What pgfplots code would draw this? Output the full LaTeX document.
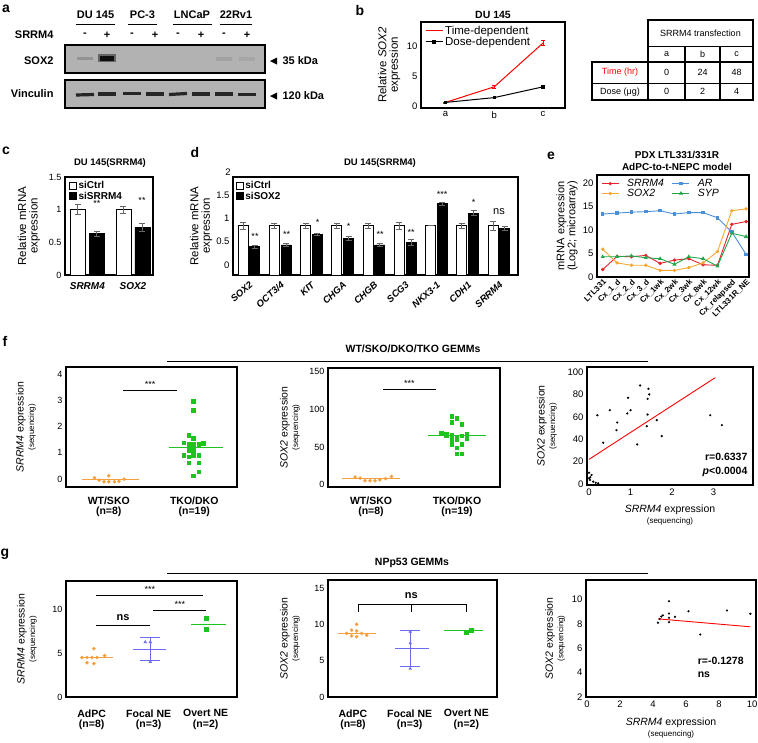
\documentclass[border=0pt]{standalone}
\usepackage{pgfplots}
\pgfplotsset{compat=1.18}
\usepackage{fontspec}
\setmainfont{Liberation Sans}
\newcommand\fs[1]{\fontsize{#1}{#1}\selectfont}
\definecolor{forange}{HTML}{F5A040}
\definecolor{fgreen}{HTML}{1EC31E}
\definecolor{fblue}{HTML}{6B6BEF}
\definecolor{ered}{HTML}{E8202A}
\definecolor{eorange}{HTML}{F8A830}
\definecolor{eblue}{HTML}{4A90D9}
\definecolor{egreen}{HTML}{20A84A}
\pgfplotsset{
  pnl/.style={scale only axis, anchor=north west, axis line style={line width=1.1pt},
    tick style={draw=none}, /pgf/number format/assume math mode=true,
    tick label style={font=\fs{9}}, label style={font=\fs{10.5}},
    ylabel style={align=center, anchor=center}, clip mode=individual},
  blot/.style={scale only axis, anchor=north west, width=200pt, height=28pt,
    xmin=0, xmax=200, ymin=0, ymax=28, xtick=\empty, ytick=\empty,
    axis line style={line width=1.4pt}, axis background/.style={fill=black!30}},
  ebar/.style={error bars/.cd, y dir=both, y explicit,
    error bar style={line width=0.8pt, black!60},
    error mark options={rotate=90, mark size=3pt, line width=0.8pt, black!60}},
  sqlegend/.style={legend image code/.code={\draw[##1, line width=0.8pt] (0pt,-3.5pt) rectangle (7pt,3.5pt);}},
}
\begin{document}
\begin{tikzpicture}[x=1pt,y=1pt]
\useasboundingbox (0,0) rectangle (758,-742);
% ---------- panel letters ----------
\foreach \l/\px/\py in {a/6/-9, b/360/-10, c/6/-151, d/195/-152, e/551/-156, f/5/-341, g/5/-554}
  \node[font=\bfseries\fs{14}] at (\px,\py) {\l};
% ---------- panel a ----------
\begin{scope}[font=\bfseries\fs{11}]
\node at (95.5,-15) {DU 145}; \draw[line width=0.8pt] (76,-24)--(115,-24);
\node at (142.5,-15) {PC-3};  \draw[line width=0.8pt] (128,-24)--(157,-24);
\node at (192,-15) {LNCaP};   \draw[line width=0.8pt] (173,-24)--(212,-24);
\node at (236,-15) {22Rv1};   \draw[line width=0.8pt] (220,-24)--(252,-24);
\node[anchor=east] at (57,-35) {SRRM4};
\foreach \x/\s in {85/-,107/+,132/-,155/+,178/-,201/+,224/-,247/+} \node at (\x,-35) {\s};
\node[anchor=east] at (57,-61) {SOX2};
\node[anchor=east] at (57,-94) {Vinculin};
\fill (270,-61)--(277,-57.5)--(277,-64.5)--cycle; \node[anchor=west] at (279,-61) {35 kDa};
\fill (270,-96)--(277,-92.5)--(277,-99.5)--cycle; \node[anchor=west] at (279,-96) {120 kDa};
\end{scope}
\begin{axis}[blot, at={(65pt,-45pt)}]
\addplot[line width=3pt, black!70, opacity=0.3] coordinates {(12,15) (28,15)};
\addplot[line width=8pt, black!80, opacity=0.6] coordinates {(33,15) (51,15)};
\addplot[line width=5pt, black, opacity=0.85] coordinates {(35,15) (49,15)};
\addplot[line width=4pt, black!60, opacity=0.22] coordinates {(151,14) (167,14)};
\addplot[line width=4pt, black!60, opacity=0.15] coordinates {(174,14) (190,14)};
\end{axis}
\begin{axis}[blot, at={(65pt,-80pt)}]
\addplot[line width=3.2pt, black!85] coordinates {(11,13) (29,13.5)};
\addplot[line width=3.6pt, black!85] coordinates {(33,14) (51,14)};
\addplot[line width=3.6pt, black!85] coordinates {(58,14.5) (76,14.5)};
\addplot[line width=3.6pt, black!85] coordinates {(81,14) (99,14)};
\addplot[line width=3.2pt, black!85] coordinates {(104,13.5) (122,14.5)};
\addplot[line width=3.8pt, black!85] coordinates {(127,14) (145,14)};
\addplot[line width=3.4pt, black!85] coordinates {(150,14) (168,14)};
\addplot[line width=3.4pt, black!85] coordinates {(173,13.5) (191,13.5)};
\end{axis}
% ---------- panel b ----------
\node[font=\bfseries\fs{10.5}] at (493,-15) {DU 145};
\begin{axis}[pnl, at={(421pt,-22pt)}, width=144pt, height=86pt,
  xmin=-0.5, xmax=2.45, ymin=-0.33, ymax=14,
  xtick={0,1,2}, xticklabels={a,b,c}, ytick={0,5,10},
  tick label style={font=\fs{9.5}},
  ylabel={Relative \textit{SOX2}\\expression},
  ylabel style={at={(axis description cs:-0.222,0.5)}, font=\fs{11.5}},
  legend style={at={(0.02,0.99)}, anchor=north west, draw=none, fill=none,
    font=\fs{11.5}, row sep=-3pt, inner sep=1pt},
  legend cell align=left]
\addplot[red, line width=1pt, mark=none, error bars/.cd, y dir=both, y explicit,
  error bar style={line width=0.8pt}, error mark options={rotate=90, mark size=2pt, red}]
  coordinates {(0,0.6) +- (0,0.08) (1,3.2) +- (0,0.2) (2,10.5) +- (0,0.4)};
\addlegendentry{Time-dependent}
\addplot[black, line width=1pt, mark=square*, mark size=1.2pt]
  coordinates {(0,0.6) (1,1.4) (2,3.2)};
\addlegendentry{Dose-dependent}
\end{axis}
% table
\begin{scope}[line width=1.1pt]
\draw (648,-20) rectangle (753,-100);
\draw (592,-62) rectangle (753,-100);
\draw (648,-46.7)--(753,-46.7);
\draw (592,-83.3)--(753,-83.3);
\draw (685,-46.7)--(685,-100);
\draw (720,-46.7)--(720,-100);
\draw (648,-62)--(648,-100);
\end{scope}
\begin{scope}[font=\fs{9}]
\node at (700.5,-33.5) {SRRM4 transfection};
\node at (666.5,-54) {a}; \node at (702.5,-54) {b}; \node at (736.5,-54) {c};
\node[red] at (620,-72.5) {Time (hr)};
\node at (666.5,-72.5) {0}; \node at (702.5,-72.5) {24}; \node at (736.5,-72.5) {48};
\node at (620,-91.7) {Dose (μg)};
\node at (666.5,-91.7) {0}; \node at (702.5,-91.7) {2}; \node at (736.5,-91.7) {4};
\end{scope}
% ---------- panel c ----------
\node[font=\bfseries\fs{9.5}] at (110,-163) {DU 145(SRRM4)};
\begin{axis}[pnl, at={(65pt,-177pt)}, width=88pt, height=98pt,
  ybar=4pt, bar width=15pt, xmin=-0.49, xmax=1.44, ymin=0, ymax=1.5,
  xtick={0,1}, xticklabels={\textit{SRRM4},\textit{SOX2}},
  xticklabel style={font=\bfseries\fs{10}},
  ytick={0,0.5,1,1.5},
  ylabel={Relative mRNA\\expression},
  ylabel style={at={(axis description cs:-0.41,0.5)}, font=\fs{11.5}},
  sqlegend,
  legend style={at={(0.03,0.99)}, anchor=north west, draw=none, fill=none,
    font=\bfseries\fs{10}, row sep=-2pt, inner sep=1pt},
  legend cell align=left]
\addplot[draw=black, fill=white, line width=0.8pt, ebar]
  coordinates {(0,1.0) +- (0,0.08) (1,1.0) +- (0,0.05)};
\addlegendentry{siCtrl}
\addplot[draw=black, fill=black, line width=0.8pt, ebar]
  coordinates {(0,0.63) +- (0,0.04) (1,0.73) +- (0,0.06)};
\addlegendentry{siSRRM4}
\end{axis}
\node[font=\fs{9}] at (97,-203) {**};
\node[font=\fs{9}] at (142,-200) {**};
% ---------- panel d ----------
\node[font=\bfseries\fs{9.5}] at (380,-163) {DU 145(SRRM4)};
\begin{axis}[pnl, at={(233pt,-177pt)}, width=285pt, height=98pt,
  ybar=1.7pt, bar width=10pt, xmin=-0.51, xmax=8.61, ymin=0, ymax=2.10,
  y filter/.expression={y+0.214},
  xtick={0,...,8},
  xticklabels={\textit{SOX2},\textit{OCT3/4},\textit{KIT},\textit{CHGA},\textit{CHGB},\textit{SCG3},\textit{NKX3-1},\textit{CDH1},\textit{SRRM4}},
  xticklabel style={font=\bfseries\fs{9.5}, rotate=42, anchor=north east, inner sep=1pt},
  ytick={0.214,0.714,1.214,1.714}, yticklabels={0,0.5,1,1.5},
  yticklabel style={font=\fs{9.5}},
  ylabel={Relative mRNA\\expression},
  ylabel style={at={(axis description cs:-0.112,0.5)}, font=\fs{11.5}},
  sqlegend,
  legend style={at={(0.005,0.99)}, anchor=north west, draw=none, fill=none,
    font=\bfseries\fs{10}, row sep=-2pt, inner sep=1pt},
  legend cell align=left]
\addplot[draw=black, fill=white, line width=0.8pt, ebar]
  coordinates {(0,0.84) +- (0,0.07) (1,0.84) +- (0,0.06) (2,0.84) +- (0,0.05) (3,0.84) +- (0,0.06)
    (4,0.84) +- (0,0.05) (5,0.84) +- (0,0.08) (6,0.84) +- (0,0.0) (7,0.84) +- (0,0.06) (8,0.84) +- (0,0.1)};
\addlegendentry{siCtrl}
\addplot[draw=black, fill=black, line width=0.8pt, ebar]
  coordinates {(0,0.39) +- (0,0.04) (1,0.43) +- (0,0.04) (2,0.66) +- (0,0.02) (3,0.57) +- (0,0.04)
    (4,0.43) +- (0,0.03) (5,0.48) +- (0,0.07) (6,1.31) +- (0,0.03) (7,1.11) +- (0,0.05) (8,0.79) +- (0,0.04)};
\addlegendentry{siSOX2}
\end{axis}
\node[font=\fs{9.5}] at (228,-172) {2};
\begin{scope}[font=\fs{9}]
\node at (255,-236) {**}; \node at (286.5,-234) {**}; \node at (317.5,-222) {*};
\node at (348.5,-226) {*}; \node at (380,-234) {**}; \node at (411,-232) {**};
\node at (442,-194) {***}; \node at (473.5,-202) {*};
\node[font=\fs{11}] at (499,-212) {ns};
\end{scope}
% ---------- panel e ----------
\node[font=\bfseries\fs{10}] at (677,-155) {PDX LTL331/331R};
\node[font=\bfseries\fs{10}] at (677,-167) {AdPC-to-t-NEPC model};
\begin{axis}[pnl, at={(597pt,-175pt)}, width=152pt, height=102pt,
  xmin=-0.4, xmax=10.2, ymin=0, ymax=21.7,
  xtick={0,...,10},
  xticklabels={LTL331,Cx\_1\_d,Cx\_2\_d,Cx\_3\_d,Cx\_1wk,Cx\_2wk,Cx\_3wk,Cx\_8wk,Cx\_12wk,Cx\_relapsed,LTL331R\_NE},
  xticklabel style={font=\bfseries\fs{8}, rotate=45, anchor=north east, inner sep=1pt},
  ytick={0,5,...,20}, yticklabel style={font=\fs{9.5}},
  ylabel={mRNA expression\\(Log2; microarray)},
  ylabel style={at={(axis description cs:-0.197,0.5)}, font=\fs{11}},
  legend columns=2,
  legend style={at={(0.02,0.99)}, anchor=north west, draw=none, fill=none,
    font=\itshape\fs{10.5}, row sep=-3pt, inner sep=1pt, column sep=6pt},
  legend cell align=left]
\addplot[ered, line width=0.9pt, mark=*, mark size=1.2pt]
  coordinates {(0,1.6) (1,4.4) (2,4.3) (3,4.6) (4,2.9) (5,3.6) (6,3.9) (7,2.6) (8,2.5) (9,11.2) (10,11.8)};
\addlegendentry{SRRM4}
\addplot[eblue, line width=0.9pt, mark=square*, mark size=1.2pt]
  coordinates {(0,13.4) (1,13.6) (2,13.8) (3,13.9) (4,14.1) (5,13.4) (6,13.7) (7,13.7) (8,12.6) (9,9.6) (10,4.8)};
\addlegendentry{AR}
\addplot[eorange, line width=0.9pt, mark=*, mark size=1.2pt]
  coordinates {(0,5.9) (1,3.0) (2,2.5) (3,2.5) (4,1.4) (5,1.4) (6,2.0) (7,3.0) (8,5.4) (9,14.1) (10,14.5)};
\addlegendentry{SOX2}
\addplot[egreen, line width=0.9pt, mark=triangle*, mark size=1.5pt]
  coordinates {(0,4.3) (1,4.3) (2,4.5) (3,4.1) (4,3.9) (5,2.7) (6,4.3) (7,3.9) (8,2.3) (9,9.3) (10,8.6)};
\addlegendentry{SYP}
\end{axis}
% ---------- panel f ----------
\node[font=\bfseries\fs{10.5}] at (413,-349) {WT/SKO/DKO/TKO GEMMs};
\draw[line width=1pt] (167,-361)--(648,-361);
\begin{axis}[pnl, at={(66pt,-367pt)}, width=171pt, height=120pt,
  xmin=0.5, xmax=2.5, ymin=-0.3, ymax=4.27, ytick={0,1,2,3,4},
  xtick={1,2}, xticklabels={WT/SKO\\(n=8),TKO/DKO\\(n=19)},
  xticklabel style={align=center, font=\bfseries\fs{10.5}, yshift=-6pt},
  ylabel={\textit{SRRM4} expression\\{\fs{8}(sequencing)}},
  ylabel style={at={(axis description cs:-0.234,0.5)}}]
\addplot[only marks, forange, mark=*, mark size=1.6pt]
  coordinates {(0.834,0.05) (0.887,-0.04) (0.945,-0.1) (1.0,-0.1) (1.0,0.13) (1.066,-0.1) (1.12,-0.08) (1.18,0.0)};
\addplot[forange, line width=1pt] coordinates {(0.69,0) (1.35,0)};
\addplot[only marks, fgreen, mark=square*, mark size=1.8pt]
  coordinates {(1.99,2.97) (1.99,2.63) (1.934,1.68) (1.99,1.57) (1.876,1.38) (1.934,1.32) (1.99,1.32) (2.05,1.32) (2.108,1.36) (1.934,1.10) (1.99,1.10) (1.876,0.91) (1.934,0.85) (1.99,0.91) (2.05,0.91) (1.934,0.62) (2.05,0.62) (2.05,0.28) (1.99,0.13)};
\addplot[fgreen, line width=1pt] coordinates {(1.70,1.2) (2.34,1.2)};
\addplot[black, line width=1pt] coordinates {(1.17,3.39) (1.80,3.39)};
\node[font=\fs{9}] at (axis cs:1.485,3.6) {***};
\end{axis}
\begin{axis}[pnl, at={(328pt,-368pt)}, width=172pt, height=119pt,
  xmin=0.5, xmax=2.5, ymin=-3, ymax=155, ytick={0,50,100,150},
  xtick={1,2}, xticklabels={WT/SKO\\(n=8),TKO/DKO\\(n=19)},
  xticklabel style={align=center, font=\bfseries\fs{10.5}, yshift=-6pt},
  ylabel={\textit{SOX2} expression\\{\fs{8}(sequencing)}},
  ylabel style={at={(axis description cs:-0.221,0.5)}}]
\addplot[only marks, forange, mark=*, mark size=1.6pt]
  coordinates {(0.816,10.2) (0.874,8.8) (0.931,5.3) (0.989,5.3) (1.046,5.3) (1.103,6.6) (1.17,8.0) (1.238,11)};
\addplot[forange, line width=1pt] coordinates {(0.667,8) (1.337,8)};
\addplot[only marks, fgreen, mark=square*, mark size=1.8pt]
  coordinates {(1.939,91) (1.996,88) (1.939,83) (2.054,80) (1.816,69) (1.874,67) (1.939,66) (1.996,64) (2.054,65) (2.111,67) (2.111,61) (1.939,60) (1.996,60) (1.939,54) (2.054,54) (1.996,49) (1.996,41) (2.054,41) (1.874,66)};
\addplot[fgreen, line width=1pt] coordinates {(1.667,65) (2.333,65)};
\addplot[black, line width=1pt] coordinates {(1.14,126) (1.75,126)};
\node[font=\fs{9}] at (axis cs:1.445,134) {***};
\end{axis}
\begin{axis}[pnl, at={(587pt,-367pt)}, width=166pt, height=118pt,
  xmin=-0.05, xmax=3.95, ymin=-1, ymax=104.5, xtick={0,1,2,3}, ytick={0,20,...,100},
  tick label style={font=\fs{9.5}},
  xlabel={\textit{SRRM4} expression\\{\fs{8}(sequencing)}},
  xlabel style={align=center, at={(axis description cs:0.5,-0.254)}, anchor=center},
  ylabel={\textit{SOX2} expression\\{\fs{8}(sequencing)}},
  ylabel style={at={(axis description cs:-0.241,0.5)}}]
\addplot[only marks, black, mark=*, mark size=0.9pt]
  coordinates {(0.2,61.4) (0.34,36.8) (0.5,65.9) (0.68,54.9) (0.66,48) (0.94,77) (0.92,63) (1.0,65.9)
    (1.23,88) (1.43,85) (1.45,80) (1.41,76) (1.41,62) (1.39,51.6) (1.63,57) (1.75,42.7) (1.16,35.3)
    (2.92,61.4) (3.2,52.5)
    (0.0,5) (0.02,3.5) (0.06,8) (0.1,2) (0.16,1) (0.22,0.5) (0.0,10) (0.03,6)};
\addplot[red, line width=0.9pt] coordinates {(0,22) (3.04,95)};
\node[font=\bfseries\fs{10.5}, anchor=east] at (axis cs:3.9,24) {r=0.6337};
\node[font=\bfseries\fs{10.5}, anchor=east] at (axis cs:3.9,11) {\textit{p}<0.0004};
\end{axis}
% ---------- panel g ----------
\node[font=\bfseries\fs{10.5}] at (412,-563) {NPp53 GEMMs};
\draw[line width=1pt] (167,-573)--(648,-573);
\begin{axis}[pnl, at={(66pt,-581pt)}, width=171pt, height=116pt,
  xmin=0.55, xmax=3.55, ymin=0, ymax=13.2, ytick={0,5,10},
  xtick={1,2,3}, xticklabels={AdPC\\(n=8),Focal NE\\(n=3),Overt NE\\(n=2)},
  xticklabel style={align=center, font=\bfseries\fs{10.5}, yshift=-9pt},
  ylabel={\textit{SRRM4} expression\\{\fs{8}(sequencing)}},
  ylabel style={at={(axis description cs:-0.228,0.5)}}]
\addplot[only marks, forange, mark=*, mark size=1.6pt]
  coordinates {(1.04,5.5) (0.83,4.5) (0.918,4.5) (1.005,4.5) (1.093,4.5) (1.228,4.7) (0.918,3.9) (1.04,3.8)};
\addplot[forange, line width=1pt] coordinates {(0.79,4.5) (1.37,4.5)};
\addplot[only marks, fblue, mark=triangle*, mark size=1.6pt]
  coordinates {(1.94,6.25) (2.03,6.25) (2.03,4.0)};
\addplot[fblue, line width=1pt] coordinates {(1.72,5.4) (2.30,5.4)};
\addplot[fblue, line width=1pt] coordinates {(2.03,4.17) (2.03,6.74)};
\addplot[fblue, line width=1pt] coordinates {(1.85,6.74) (2.20,6.74)};
\addplot[fblue, line width=1pt] coordinates {(1.85,4.17) (2.20,4.17)};
\addplot[only marks, fgreen, mark=square*, mark size=1.8pt]
  coordinates {(3.01,9.0) (3.01,7.7)};
\addplot[fgreen, line width=1pt] coordinates {(2.75,8.3) (3.35,8.3)};
\addplot[black, line width=1pt] coordinates {(1.08,11.55) (2.96,11.55)};
\addplot[black, line width=1pt] coordinates {(2.08,9.9) (3.01,9.9)};
\addplot[black, line width=1pt] coordinates {(1.08,8.1) (2.02,8.1)};
\node[font=\fs{9}] at (axis cs:2.02,12.2) {***};
\node[font=\fs{9}] at (axis cs:2.55,10.55) {***};
\node[font=\bfseries\fs{11}] at (axis cs:1.55,9.0) {ns};
\end{axis}
\begin{axis}[pnl, at={(328pt,-580pt)}, width=169pt, height=117pt,
  xmin=0.56, xmax=3.54, ymin=0, ymax=16.1, ytick={0,5,10,15},
  xtick={1,2,3}, xticklabels={AdPC\\(n=8),Focal NE\\(n=3),Overt NE\\(n=2)},
  xticklabel style={align=center, font=\bfseries\fs{10.5}, yshift=-9pt},
  ylabel={\textit{SOX2} expression\\{\fs{8}(sequencing)}},
  ylabel style={at={(axis description cs:-0.225,0.5)}}]
\addplot[only marks, forange, mark=*, mark size=1.6pt]
  coordinates {(1.065,10.0) (0.977,9.2) (1.065,9.1) (0.889,8.75) (1.154,8.75) (0.977,8.4) (1.065,8.3) (1.243,8.5)};
\addplot[forange, line width=1pt] coordinates {(0.74,8.75) (1.41,8.75)};
\addplot[only marks, fblue, mark=triangle*, mark size=1.6pt]
  coordinates {(2.01,9.0) (2.01,7.4) (2.01,3.9)};
\addplot[fblue, line width=1pt] coordinates {(1.75,6.7) (2.34,6.7)};
\addplot[fblue, line width=1pt] coordinates {(2.01,4.15) (2.01,9.1)};
\addplot[fblue, line width=1pt] coordinates {(1.83,9.1) (2.18,9.1)};
\addplot[fblue, line width=1pt] coordinates {(1.83,4.15) (2.18,4.15)};
\addplot[only marks, fgreen, mark=square*, mark size=1.8pt]
  coordinates {(3.0,8.9) (3.08,9.2)};
\addplot[fgreen, line width=1pt] coordinates {(2.6,9.1) (3.3,9.1)};
\addplot[black, line width=1pt] coordinates {(1.09,11.75) (1.09,12.7) (3.01,12.7) (3.01,11.75)};
\addplot[black, line width=1pt] coordinates {(2.03,12.7) (2.03,11.75)};
\node[font=\bfseries\fs{11}] at (axis cs:2.03,13.9) {ns};
\end{axis}
\begin{axis}[pnl, at={(586pt,-580pt)}, width=170pt, height=117pt,
  xmin=-0.06, xmax=10.24, ymin=2, ymax=11.6, xtick={0,2,...,10}, ytick={2,4,...,10},
  tick label style={font=\fs{9.5}},
  xlabel={\textit{SRRM4} expression\\{\fs{8}(sequencing)}},
  xlabel style={align=center, at={(axis description cs:0.5,-0.265)}, anchor=center},
  ylabel={\textit{SOX2} expression\\{\fs{8}(sequencing)}},
  ylabel style={at={(axis description cs:-0.182,0.5)}}]
\addplot[only marks, black, mark=*, mark size=0.9pt]
  coordinates {(4.3,8.1) (4.4,8.4) (4.5,8.6) (4.6,8.7) (4.97,9.86) (4.97,8.85) (4.97,8.5) (4.97,8.14)
    (5.33,8.58) (6.15,9.04) (6.86,7.13) (8.48,9.1) (9.9,8.83)};
\addplot[red, line width=0.9pt] coordinates {(4.32,8.41) (9.9,7.76)};
\node[font=\bfseries\fs{10.5}, anchor=west] at (axis cs:6.5,5.0) {r=-0.1278};
\node[font=\bfseries\fs{10.5}, anchor=west] at (axis cs:6.5,3.8) {ns};
\end{axis}
\end{tikzpicture}
\end{document}
